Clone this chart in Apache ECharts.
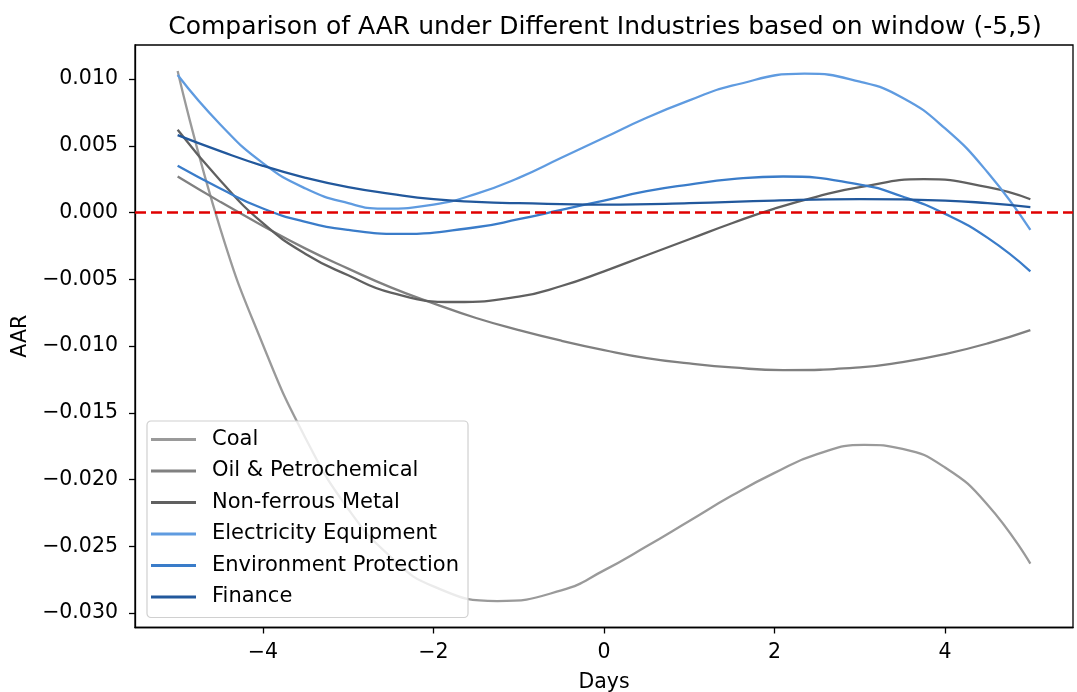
<!DOCTYPE html>
<html>
<head>
<meta charset="utf-8">
<script src="https://cdn.jsdelivr.net/npm/echarts@6/dist/echarts.min.js"></script>
<style>
html,body{margin:0;padding:0;background:#fff;}
#chart{width:1077px;height:692px;}
</style>
</head>
<body>
<div id="chart"></div>
<script>
// Days sampled per industry (each list includes the curve's turning points)
var coalDays = [-5,-4.5,-4,-3.5,-3,-2.5,-2,-1.25,-0.5,0,0.5,1,1.5,2,2.5,3.05,3.5,4,4.5,5];
var coal = [0.0106,-0.0012,-0.0099,-0.0169,-0.0222,-0.0258,-0.0280,-0.0291,-0.0283,-0.0268,-0.0250,-0.0231,-0.0212,-0.0195,-0.0181,-0.0174,-0.0177,-0.0191,-0.0219,-0.0263];
var oilDays = [-5,-4.5,-4,-3.5,-3,-2.5,-2,-1.5,-1,-0.5,0,0.5,1,1.5,2.1,3,3.5,4,4.5,5];
var oil = [0.0027,0.0008,-0.0010,-0.0027,-0.0042,-0.0056,-0.0068,-0.0079,-0.0088,-0.0096,-0.0103,-0.0109,-0.0113,-0.0116,-0.0118,-0.0116,-0.0112,-0.0106,-0.0098,-0.0088];
var nonferrousDays = [-5,-4.5,-4,-3.5,-3,-2.5,-1.75,-1,-0.5,0,0.5,1,1.5,2,2.5,3,3.75,4.5,5];
var nonferrous = [0.0062,0.0024,-0.0008,-0.0031,-0.0047,-0.0060,-0.0067,-0.0063,-0.0055,-0.0044,-0.0032,-0.0020,-0.0008,0.0003,0.0012,0.0019,0.0025,0.0019,0.0010];
var electricityDays = [-5,-4.5,-4,-3.5,-3,-2.6,-2,-1.5,-1,-0.5,0,0.5,1,1.5,2.35,3,3.5,4,4.5,5];
var electricity = [0.0103,0.0066,0.0037,0.0018,0.0007,0.0003,0.0006,0.0014,0.0026,0.0041,0.0056,0.0071,0.0084,0.0095,0.0104,0.0098,0.0086,0.0063,0.0030,-0.0013];
var environmentDays = [-5,-4.5,-4,-3.5,-3,-2.4,-1.5,-1,-0.5,0,0.5,1,1.5,2.1,3,3.5,4,4.5,5];
var environment = [0.0035,0.0018,0.0003,-0.0007,-0.0013,-0.0016,-0.0011,-0.0005,0.0002,0.0009,0.0016,0.0021,0.0025,0.0027,0.0021,0.0012,-0.0001,-0.0019,-0.0044];
var financeDays = [-5,-4.5,-4,-3.5,-3,-2.5,-2,-1.5,-1,0,1,2,3,4,4.5,5];
var finance = [0.0058,0.0046,0.0035,0.0026,0.0019,0.0014,0.0010,0.0008,0.0007,0.0006,0.0007,0.0009,0.0010,0.0009,0.0007,0.0004];

var seriesNames = ['Coal','Oil & Petrochemical','Non-ferrous Metal','Electricity Equipment','Environment Protection','Finance'];
var seriesDays = [coalDays, oilDays, nonferrousDays, electricityDays, environmentDays, financeDays];
var seriesValues = [coal, oil, nonferrous, electricity, environment, finance];
var seriesColors = ['#9a9a9a','#808080','#606060','#5f9be0','#3a7cc9','#22589c'];
var xTicks = [-4,-2,0,2,4];
var yTicks = [-0.030,-0.025,-0.020,-0.015,-0.010,-0.005,0.000,0.005,0.010];
var referenceY = 0;

function fmtMinus(s){ return s.replace('-', '\u2212'); }

var chart = echarts.init(document.getElementById('chart'), null, {renderer:'canvas'});
var font = 'DejaVu Sans';
var series = seriesNames.map(function(n, i){
  return {
    name: n,
    type: 'line',
    data: seriesDays[i].map(function(d, k){ return [d, seriesValues[i][k]]; }),
    smooth: 0.5,
    symbol: 'none',
    lineStyle: {color: seriesColors[i], width: 2.3},
    itemStyle: {color: seriesColors[i]},
    z: 2
  };
});
series.push({
  name: 'ref',
  type: 'line',
  data: [],
  silent: true,
  z: 3,
  markLine: {
    silent: true,
    symbol: ['none','none'],
    label: {show: false},
    lineStyle: {color: '#e00000', width: 2.5, type: [11,5]},
    data: [{yAxis: referenceY}],
    animation: false
  }
});

chart.setOption({
  animation: false,
  backgroundColor: '#ffffff',
  title: {
    text: 'Comparison of AAR under Different Industries based on window (-5,5)',
    left: 600, textAlign: 'center', top: 10,
    textStyle: {fontFamily: font, fontSize: 25, fontWeight: 'normal', color: '#000'}
  },
  grid: {left: 135, right: 4, top: 45, bottom: 64.5, outerBoundsMode: 'none', containLabel: false,
    show: true, borderColor: '#000', borderWidth: 1.3, backgroundColor: 'transparent'},
  legend: {
    data: seriesNames,
    orient: 'vertical',
    left: 147, top: 421,
    padding: [8, 9, 10, 4],
    itemWidth: 56, itemHeight: 3,
    itemGap: 10.5,
    icon: 'path://M0,0 L45,0 L45,3 L0,3 Z M56,0 L56,3',
    itemStyle: {borderWidth: 0},
    backgroundColor: 'rgba(255,255,255,0.8)',
    borderColor: '#d0d0d0', borderWidth: 1.2, borderRadius: 4,
    textStyle: {fontFamily: font, fontSize: 21, color: '#000', lineHeight: 21}
  },
  xAxis: {
    type: 'value', min: -5.5, max: 5.5,
    name: 'Days', nameLocation: 'middle', nameGap: 45,
    nameTextStyle: {fontFamily: font, fontSize: 20.5, color: '#000'},
    axisLine: {show: true, onZero: false, lineStyle: {color: '#000', width: 1.3}},
    axisTick: {show: true, length: 6, lineStyle: {color: '#000', width: 1.3}, customValues: xTicks},
    axisLabel: {fontFamily: font, fontSize: 20.5, color: '#000', margin: 14.5, customValues: xTicks,
      formatter: function(v){ return fmtMinus(String(v)); }},
    splitLine: {show: false}
  },
  yAxis: {
    type: 'value', min: -0.03108, max: 0.01255,
    name: 'AAR', nameLocation: 'middle', nameGap: 100,
    nameTextStyle: {fontFamily: font, fontSize: 20.5, color: '#000'},
    axisLine: {show: true, onZero: false, lineStyle: {color: '#000', width: 1.3}},
    axisTick: {show: true, length: 6, lineStyle: {color: '#000', width: 1.3}, customValues: yTicks},
    axisLabel: {fontFamily: font, fontSize: 20.5, color: '#000', margin: 17, customValues: yTicks,
      formatter: function(v){ return fmtMinus(Number(v).toFixed(3)); }},
    splitLine: {show: false}
  },
  series: series
});
</script>
</body>
</html>
